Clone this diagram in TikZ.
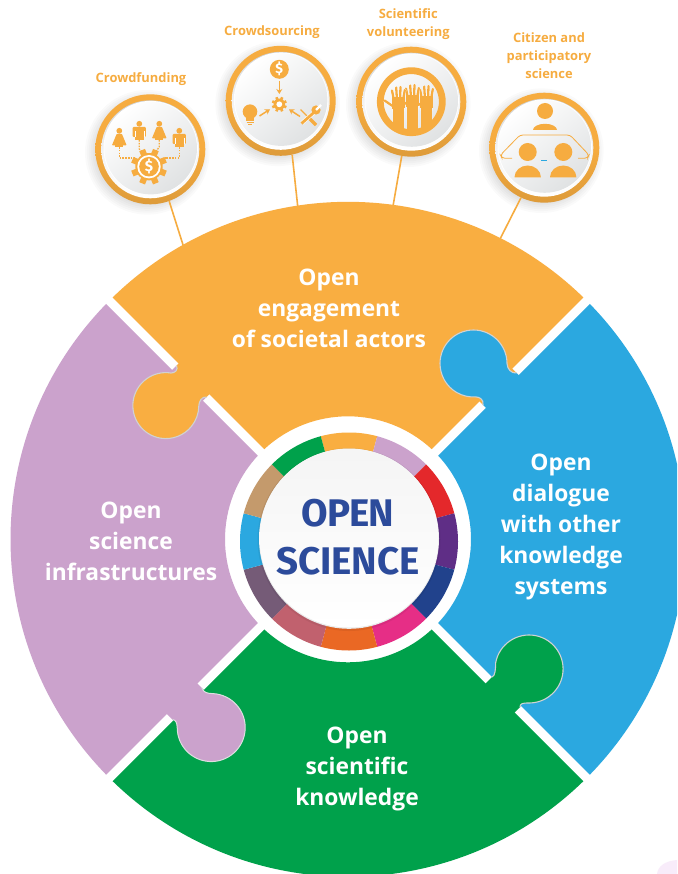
\documentclass[tikz,border=0pt]{standalone}
\usepackage{fontspec}
\usetikzlibrary{arrows.meta}
\setmainfont{Open Sans}
\newfontfamily\dinfont{Fira Sans}
\definecolor{cOrange}{HTML}{F9AE41}
\definecolor{cLilac}{HTML}{CBA2CC}
\definecolor{cBlue}{HTML}{2BA8E0}
\definecolor{cGreen}{HTML}{00A14B}
\definecolor{cRed}{HTML}{E4282B}
\definecolor{cPurple}{HTML}{5F2E86}
\definecolor{cNavy}{HTML}{21428C}
\definecolor{cPink}{HTML}{E62E86}
\definecolor{cFlame}{HTML}{EA6824}
\definecolor{cRose}{HTML}{C1616E}
\definecolor{cDusk}{HTML}{755B77}
\definecolor{cTan}{HTML}{C49A6C}
\definecolor{cIcon}{HTML}{F6AC40}
\definecolor{cRim}{HTML}{D0D2D3}
\definecolor{cFace}{HTML}{E0E2E3}
\definecolor{cTitle}{HTML}{2C4B9B}
\definecolor{cBlush}{HTML}{F8ECFA}
\tikzset{
  badgering/.style={circle,minimum size=110pt,inner sep=0pt,top color=cIcon,bottom color=cIcon!90!black,middle color=cIcon},
  linkline/.style={cIcon,line width=1.6pt},
  toplabel/.style={text=cIcon,font=\bfseries\fontsize{12.9}{18}\selectfont,align=center,inner sep=0pt},
  piecelabel/.style={text=white,font=\bfseries\fontsize{22.8}{31}\selectfont,align=center,inner sep=0pt},
  titlelabel/.style={text=cTitle,inner sep=0pt,font=\dinfont\bfseries\fontsize{38.5}{40}\selectfont},
  dollar/.style={text=white,inner sep=0pt,font=\dinfont\bfseries\fontsize{#1}{#1}\selectfont},
  dotline/.style={cIcon,line width=1.3pt,dash pattern=on 1.6pt off 1.2pt},
  iconarrow/.style={cIcon,line width=1.5pt,-{Stealth[length=5pt,width=6pt]}},
}
\newcommand\quadpiece[2]{%
  \fill[#1] (#2-44.22:337.5) arc[start angle=#2-44.22,end angle=#2+44.22,radius=337.5]
    -- (#2+42.86:123) arc[start angle=#2+42.86,end angle=#2-42.86,radius=123] -- cycle;}
\newcommand\disc[2]{%
  \foreach \i in {0,...,7}{\fill[black,opacity=.018] (#1-3,#2+3) circle[radius=49+\i*1.9];}
}
\newcommand\face[2]{%
  \shade[top color=cRim,bottom color=white,middle color=white!95!black] (#1,#2) circle[radius=49];
  \fill[white] (#1+.4,#2-1.2) circle[radius=47.2];
  \shade[bottom color=cFace,middle color=white!98!black,top color=white,shading angle=40] (#1+.4,#2-1.2) circle[radius=46.3];
}
\newcommand\gearicon[3]{%
  \fill[cIcon] (#1,#2) circle[radius=.76*#3];
  \foreach \a in {0,45,...,315}{\draw[cIcon,line width=.34*#3] (#1,#2)++(\a+22.5:.6*#3) -- ++(\a+22.5:.4*#3);}
}
\newcommand\manicon[2]{%
  \fill[cIcon] (#1,#2-6.2) circle[radius=2.9];
  \fill[cIcon,rounded corners=1pt] (#1-6.6,#2-3) rectangle (#1+6.6,#2+7);
  \fill[cIcon] (#1-4.5,#2+6) rectangle (#1+4.5,#2+10);
  \draw[white,line width=.4pt] (#1-4.4,#2+1) -- (#1-4.4,#2+7) (#1+4.4,#2+1) -- (#1+4.4,#2+7);
}
\newcommand\womanicon[2]{%
  \fill[cIcon] (#1,#2-6.2) circle[radius=2.9];
  \fill[cIcon,rounded corners=.8pt] (#1-2.6,#2-3.2) -- (#1+2.6,#2-3.2) -- (#1+7.4,#2+8.5) -- (#1-7.4,#2+8.5) -- cycle;
  \fill[cIcon] (#1-4,#2+8) rectangle (#1+4,#2+10);
}
\newcommand\handshape[5]{%
  \begin{scope}[shift={(#1,#2)},rotate=#3]
    \draw[#4,line width=2.3pt+#5,line cap=round] (-4.6,-3) -- (-6.5,-12.5) (-1.6,-4) -- (-2.3,-15.5) (1.6,-4) -- (2,-16) (4.6,-3) -- (6.3,-13) (-3,5) -- (-14,-2.5);
    \fill[#4,draw=#4,line width=#5] (-5.8,-5) -- (5.8,-5) -- (5.4,8) -- (5,34) -- (-5,34) -- (-5.4,9) -- cycle;
  \end{scope}}
\newcommand\handicon[3]{\handshape{#1}{#2}{#3}{white}{.7pt}\handshape{#1}{#2}{#3}{cIcon}{0pt}}
\begin{document}
\begin{tikzpicture}[x=1pt,y=1pt,yscale=-1]
\useasboundingbox (0,0) rectangle (677,874);
\clip (0,0) rectangle (677,874);
\fill[white] (0,0) rectangle (677,874);
\fill[cBlush] (677,860) .. controls (665,861) and (658,866) .. (657,874) -- (677,874) -- cycle;

% badges
\disc{150.3}{149.3}\disc{280.7}{100.8}\disc{411.3}{101.7}\disc{544.3}{147.7}
\node[badgering] (bfund) at (150.3,149.3) {};
\node[badgering] (bsource) at (280.7,100.8) {};
\node[badgering] (bvol) at (411.3,101.7) {};
\node[badgering] (bcit) at (544.3,147.7) {};
\coordinate (afund) at (184,248);
\coordinate (asource) at (298,209);
\coordinate (avol) at (392.5,209);
\coordinate (acit) at (498,243);
\draw[linkline] (bfund.-70) -- (afund);
\draw[linkline] (bsource.-78) -- (asource);
\draw[linkline] (bvol.-100) -- (avol);
\draw[linkline] (bcit.-115) -- (acit);
\face{150.3}{149.3}\face{280.7}{100.8}\face{411.3}{101.7}\face{544.3}{147.7}

% Crowdfunding icon
\womanicon{119.3}{137}\manicon{139.3}{130}\womanicon{159.3}{130}\manicon{179.3}{137}
\draw[dotline] (119.3,147) -- (119.3,158) -- (135,158);
\draw[dotline] (139.3,140) -- (139.3,149) -- (144,154);
\draw[dotline] (159.3,140) -- (159.3,147) -- (154,154);
\draw[dotline] (179.3,147) -- (179.3,158) -- (165,158);
\gearicon{149}{166.7}{18}
\fill[white] (149,166.7) circle[radius=11.7];
\fill[cIcon] (149,166.7) circle[radius=9.8];
\node[dollar=15] (dollarfund) at (149,166.7) {\$};

% Crowdsourcing icon
\fill[cIcon] (279.3,69.3) circle[radius=9.5];
\node[dollar=14] (dollarsource) at (279.3,69.3) {\$};
\draw[iconarrow] (279.3,81) -- (279.3,94);
\gearicon{279.3}{104.3}{7.6}
\fill[white] (279.3,104.3) circle[radius=2.9];
\fill[cIcon] (250,111.7) circle[radius=7.3];
\fill[cIcon] (246,116) rectangle (254,120);
\draw[cIcon,line width=1pt] (246,120.8) -- (254,120.8) (246.5,122.7) -- (253.5,122.7) (248,124.5) -- (252,124.5);
\draw[iconarrow] (259.5,116) -- (270,109.3);
\draw[iconarrow] (300,116.5) -- (289,109.3);
\draw[cIcon,line width=1.2pt] (300.5,109.5) -- (310,119);
\draw[cIcon,line width=3.4pt] (309,118) -- (316,125);
\draw[white,line width=4pt] (302,123) -- (314.5,112);
\draw[cIcon,line width=2.8pt] (301.5,123.5) -- (315,111.5);
\fill[cIcon] (316,110) circle[radius=4.6];
\draw[white,line width=2.2pt] (316,110) -- (321,105);

% Scientific volunteering icon
\begin{scope}
  \clip (411.3,101.7) circle[radius=28.5];
  \handicon{426.5}{102}{0}
  \handicon{412.5}{101}{0}
  \handicon{398.5}{103}{0}
\end{scope}
\draw[cIcon,line width=6.8pt] (411.3,101.7) circle[radius=31];

% Citizen icon
\fill[cIcon] (545,111) circle[radius=8];
\fill[cIcon] (533,130) arc[start angle=180,end angle=360,x radius=12,y radius=6.2] -- cycle;
\draw[cIcon,line width=.8pt,rounded corners=3pt] (512,158.3) -- (502,158.3) -- (500.5,155) -- (520,135) -- (570,135) -- (589,155) -- (587.5,158.3) -- (578,158.3);
\fill[cIcon] (527.7,152) circle[radius=9];
\fill[cIcon] (563.3,152) circle[radius=9];
\fill[cIcon] (514.5,177.3) arc[start angle=180,end angle=360,x radius=13.2,y radius=11.8] -- cycle;
\fill[cIcon] (550,177.3) arc[start angle=180,end angle=360,x radius=13.2,y radius=11.8] -- cycle;
\draw[cBlue,line width=.7pt] (541,160.3) -- (547,160.3);

% pieces
\begin{scope}[shift={(348,539.3)}]
  \quadpiece{cOrange}{-90}
  \quadpiece{cBlue}{0}
  \quadpiece{cGreen}{90}
  \quadpiece{cLilac}{180}
\end{scope}

% orange tab into lilac
\fill[cLilac] (176.5,365.5) -- (206.5,397) -- (199.5,404) -- (169.5,372.5) -- cycle;
\fill[cOrange] (185,357) -- (176.5,365.5) .. controls (178.5,370) and (175,373) .. (171,373)
  arc[start angle=-81,end angle=-360,radius=33] .. controls (199,401) and (202,396.5) .. (206.5,397) -- (215,388.5) -- cycle;
\draw[cRim,line width=1.1pt] (176.5,365.5) .. controls (178.5,370) and (175,373) .. (171,373)
  arc[start angle=-81,end angle=-360,radius=33] .. controls (199,401) and (202,396.5) .. (206.5,397);

% blue tab into orange
\fill[cOrange] (516.5,373) -- (483,405) -- (476,398) -- (509.5,366) -- cycle;
\fill[cBlue] (525,381.5) -- (516.5,373) .. controls (511,373.5) and (507.3,369) .. (507,363.5)
  arc[start angle=0,end angle=-274,radius=33.5] .. controls (479,397) and (484,399) .. (483,405) -- (491.5,413.5) -- cycle;
\draw[cRim,line width=1.1pt] (516.5,373) .. controls (511,373.5) and (507.3,369) .. (507,363.5)
  arc[start angle=0,end angle=-274,radius=33.5] .. controls (479,397) and (484,399) .. (483,405);

% green tab into blue
\fill[cBlue] (492,677) -- (520,707) -- (527,700) -- (499,670) -- cycle;
\fill[cGreen] (482,687) -- (492,677) .. controls (495.5,676) and (495.5,668) .. (495.7,662.5)
  arc[start angle=-169,end angle=92,radius=34] .. controls (523,703) and (520,703.5) .. (520,707) -- (510,717) -- cycle;
\draw[cRim,line width=1.1pt] (492,677) .. controls (495.5,676) and (495.5,668) .. (495.7,662.5)
  arc[start angle=-169,end angle=92,radius=34] .. controls (523,703) and (520,703.5) .. (520,707);

% lilac tab into green
\fill[cGreen] (202,688) -- (172.5,719.5) -- (179.5,726.5) -- (209,695) -- cycle;
\fill[cLilac] (192,678) -- (202,688) .. controls (203.5,692.5) and (207,693.5) .. (213,693.6)
  arc[start angle=-87,end angle=180,radius=34] .. controls (177,723) and (176,720) .. (172.5,719.5) -- (162.5,709.5) -- cycle;
\draw[cRim!70!white,line width=1pt] (202,688) .. controls (203.5,692.5) and (207,693.5) .. (213,693.6)
  arc[start angle=-87,end angle=180,radius=34] .. controls (177,723) and (176,720) .. (172.5,719.5);

% centre ring
\begin{scope}[shift={(349,541.5)}]
  \foreach \a/\c in {-90/cOrange,-60/cLilac,-30/cRed,0/cPurple,30/cNavy,60/cPink,90/cFlame,120/cRose,150/cDusk,180/cBlue,210/cTan,240/cGreen}{
    \fill[\c] (\a-15:109) arc[start angle=\a-15,end angle=\a+15,radius=109] -- (\a+15:80) arc[start angle=\a+15,end angle=\a-15,radius=80] -- cycle;
  }
\end{scope}
\fill[black,opacity=.06] (349,539.5) circle[radius=91.5];
\fill[cRim!45!white] (349,538.8) circle[radius=90];
\shade[top color=white!96!black,bottom color=white] (349,538) circle[radius=89.5];

% labels
\node[toplabel] (lfund) at (141,79) {Crowdfunding};
\node[toplabel] (lsource) at (272,32.3) {Crowdsourcing};
\node[toplabel] (lvol) at (408.3,24.5) {Scientific\\volunteering};
\node[toplabel] (lcit) at (549,56) {Citizen and\\participatory\\science};
\node[piecelabel] (popen) at (329,308) {Open\\engagement\\of societal actors};
\node[piecelabel] (pinf) at (131,541) {Open\\science\\infrastructures};
\node[piecelabel] (pdia) at (561,527) {Open\\dialogue\\with other\\knowledge\\systems};
\node[piecelabel] (psci) at (357,769) {Open\\scientific\\knowledge};
\node[titlelabel] (topen) at (348,513) {\addfontfeatures{LetterSpace=-2.5}OPEN};
\node[titlelabel] (tsci) at (348,561.5) {SCIENCE};
\end{tikzpicture}
\end{document}
